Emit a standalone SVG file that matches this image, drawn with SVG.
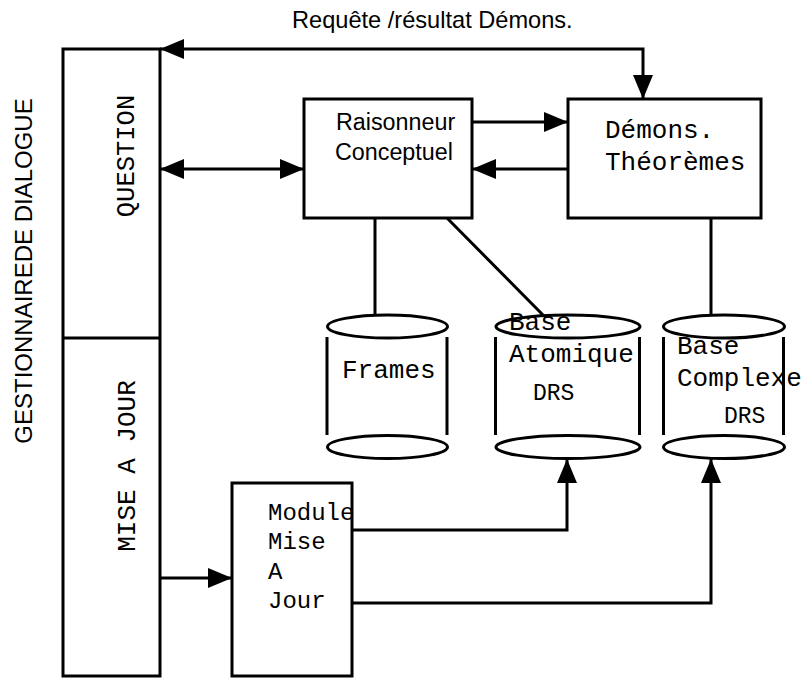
<svg xmlns="http://www.w3.org/2000/svg" width="804" height="678" viewBox="0 0 804 678">
<style>
.s{fill:none;stroke:#000;stroke-width:3}
.b{fill:#fff;stroke:#000;stroke-width:3}
.sans{font-family:"Liberation Sans",Arial,sans-serif;fill:#000}
.mono{font-family:"Liberation Mono","Courier New",monospace;fill:#000}
.c{fill:none;stroke:#000;stroke-width:3;marker-end:url(#ah)}
.d{marker-start:url(#ah)}
</style>
<defs>
<marker id="ah" markerUnits="userSpaceOnUse" markerWidth="24" markerHeight="20" refX="24" refY="10" orient="auto-start-reverse" viewBox="0 0 24 20">
<path d="M0,0 L24,10 L0,20 z" fill="#000"/>
</marker>
</defs>
<rect width="804" height="678" fill="#fff"/>
<text class="sans" x="292" y="28" font-size="23.6">Requête /résultat Démons.</text>
<text class="sans" font-size="24" text-anchor="middle" transform="translate(32,271) rotate(-90)">GESTIONNAIREDE DIALOGUE</text>

<g id="gestionnaire">
<rect class="s" x="63" y="49" width="97" height="627"/>
<line class="s" x1="62" y1="338" x2="160" y2="338"/>
<text class="mono" font-size="25.5" text-anchor="middle" transform="translate(134,156) rotate(-90)">QUESTION</text>
<text class="mono" font-size="26" text-anchor="middle" transform="translate(135,466) rotate(-90)">MISE A JOUR</text>
</g>

<g id="raisonneur">
<rect class="s" x="304" y="99" width="168" height="119"/>
<text class="sans" font-size="23.3" x="336" y="130">Raisonneur</text>
<text class="sans" font-size="23.3" x="335" y="160">Conceptuel</text>
</g>

<g id="demons">
<rect class="s" x="568" y="99" width="193" height="119"/>
<text class="mono" font-size="26" x="605" y="138">Démons.</text>
<text class="mono" font-size="26" x="605" y="170">Théorèmes</text>
</g>

<g id="frames">
<ellipse class="s" cx="387.5" cy="326.5" rx="60" ry="11.5"/>
<line class="s" x1="327" y1="337" x2="327" y2="435"/>
<line class="s" x1="447" y1="337" x2="447" y2="435"/>
<ellipse class="s" cx="387.5" cy="447" rx="60" ry="11.5"/>
<text class="mono" font-size="26" x="342" y="378">Frames</text>
</g>

<g id="base-atomique">
<ellipse class="s" cx="568" cy="326.5" rx="72" ry="11.5"/>
<line class="s" x1="495.5" y1="337" x2="495.5" y2="435"/>
<line class="s" x1="639.5" y1="337" x2="639.5" y2="435"/>
<ellipse class="s" cx="568" cy="447" rx="72" ry="11.5"/>
<text class="mono" font-size="26" x="509" y="330">Base</text>
<text class="mono" font-size="26" x="509" y="362">Atomique</text>
<text class="mono" font-size="23" x="533" y="400">DRS</text>
</g>

<g id="base-complexe">
<ellipse class="s" cx="724" cy="326.5" rx="60.5" ry="11.5"/>
<line class="s" x1="663.5" y1="337" x2="663.5" y2="435"/>
<line class="s" x1="783.5" y1="337" x2="783.5" y2="435"/>
<ellipse class="s" cx="724" cy="447" rx="60.5" ry="11.5"/>
<text class="mono" font-size="26" x="677" y="354">Base</text>
<text class="mono" font-size="26" x="677" y="386">Complexe</text>
<text class="mono" font-size="23" x="724" y="423">DRS</text>
</g>

<g id="module">
<rect class="s" x="232" y="483" width="120" height="193"/>
<text class="mono" font-size="24" x="268" y="520">Module</text>
<text class="mono" font-size="24" x="268" y="549">Mise</text>
<text class="mono" font-size="24" x="268" y="579">A</text>
<text class="mono" font-size="24" x="268" y="608">Jour</text>
</g>

<g id="connectors">
<path class="c d" d="M160,49 L643,49 L643,99"/>
<path class="c d" d="M160,169 L304,169"/>
<path class="c" d="M472,122 L568,122"/>
<path class="c" d="M568,169 L472,169"/>
<path class="c" d="M160,578 L232,578"/>
<path class="c" d="M352,530 L567,530 L567,459"/>
<path class="c" d="M352,603 L711,603 L711,459"/>
<line class="s" x1="375" y1="218" x2="375" y2="315"/>
<line class="s" x1="447" y1="218" x2="543" y2="315"/>
<line class="s" x1="711" y1="218" x2="711" y2="315"/>
</g>
</svg>
